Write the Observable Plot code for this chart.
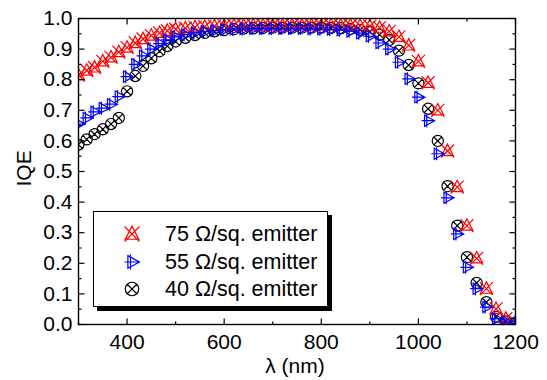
<!DOCTYPE html>
<html><head><meta charset="utf-8">
<script src="https://cdn.jsdelivr.net/npm/d3@7"></script>
<script src="https://cdn.jsdelivr.net/npm/@observablehq/plot@0.6"></script>
<style>
body{margin:0;background:#fff;}
#wrap{position:relative;width:547px;height:380px;font-family:"Liberation Sans",Arial,sans-serif;}
#legend{position:absolute;left:93px;top:211px;width:233px;height:94px;border:1.2px solid #000;box-shadow:4px 4px 0 #000;background:#fff;}
.row{position:absolute;left:0;height:28px;display:flex;align-items:center;font-size:21.5px;color:#000;white-space:nowrap;}
.row svg{margin-left:30px;margin-right:25px;overflow:visible;}
</style></head><body><div id="wrap"></div>
<script>
// wavelength (nm)
const lambda = [300,317,333,350,367,383,400,417,433,450,467,483,500,
  520,540,560,580,600,620,640,660,680,700,720,740,760,780,800,820,840,860,880,900,
  920,940,960,980,1000,1020,1040,1060,1080,1100,1120,1140,1160,1180,1200];
// IQE, 75 ohm/sq emitter
const iqe75 = [0.815,0.83,0.84,0.86,0.873,0.89,0.905,0.92,0.933,0.944,0.953,0.96,0.965,
  0.968,0.971,0.973,0.975,0.976,0.977,0.977,0.978,0.978,0.978,0.978,0.978,0.978,0.978,0.978,0.978,0.977,0.977,0.976,0.975,
  0.97,0.958,0.94,0.912,0.86,0.79,0.70,0.567,0.449,0.323,0.216,0.117,0.051,0.019,0.008];
// IQE, 55 ohm/sq emitter
const iqe55 = [0.655,0.675,0.695,0.707,0.72,0.745,0.81,0.85,0.878,0.9,0.918,0.93,0.94,
  0.947,0.953,0.957,0.96,0.963,0.965,0.966,0.967,0.967,0.967,0.967,0.967,0.967,0.966,0.965,0.964,0.962,0.958,0.952,0.942,
  0.92,0.9,0.857,0.803,0.743,0.666,0.558,0.414,0.296,0.187,0.117,0.057,0.019,0.008,0.004];
// IQE, 40 ohm/sq emitter
const iqe40 = [0.588,0.605,0.622,0.638,0.655,0.675,0.762,0.812,0.845,0.87,0.893,0.91,0.925,
  0.937,0.946,0.953,0.958,0.962,0.965,0.967,0.968,0.969,0.97,0.97,0.97,0.97,0.97,0.97,0.969,0.968,0.966,0.963,0.957,
  0.947,0.93,0.895,0.848,0.788,0.705,0.60,0.452,0.323,0.22,0.136,0.073,0.025,0.01,0.005];

const seriesNames = ["75 \u03A9/sq. emitter", "55 \u03A9/sq. emitter", "40 \u03A9/sq. emitter"];
const seriesColors = ["#ff0000", "#0000ff", "#000000"];
const xTickLabels = [400, 600, 800, 1000, 1200];
const xMinorTicks = [300, 500, 700, 900, 1100];
const yTickLabels = [0, 0.1, 0.2, 0.3, 0.4, 0.5, 0.6, 0.7, 0.8, 0.9, 1.0];
const yMinorTicks = [0.05, 0.15, 0.25, 0.35, 0.45, 0.55, 0.65, 0.75, 0.85, 0.95];
const xLabel = "\u03BB (nm)";
const yLabel = "IQE";

// custom marker shapes
const rad = size => Math.sqrt(size / Math.PI);
const symXTri = {draw(c, size) { const r = rad(size);
  c.moveTo(-r, -r); c.lineTo(r, r); c.moveTo(r, -r); c.lineTo(-r, r);
  c.moveTo(0, -r * 1.05); c.lineTo(r * 0.9, r * 0.7); c.lineTo(-r * 0.9, r * 0.7); c.closePath(); }};
const symPlusTri = {draw(c, size) { const r = rad(size);
  c.moveTo(-r, 0); c.lineTo(r, 0); c.moveTo(-r * 0.2, -r); c.lineTo(-r * 0.2, r);
  c.moveTo(-r * 0.55, -r * 0.85); c.lineTo(r, 0); c.lineTo(-r * 0.55, r * 0.85); c.closePath(); }};
const symCircX = {draw(c, size) { const r = rad(size) * 0.9, k = r * 0.707;
  c.moveTo(r, 0); c.arc(0, 0, r, 0, 2 * Math.PI);
  c.moveTo(-k, -k); c.lineTo(k, k); c.moveTo(k, -k); c.lineTo(-k, k); }};
const seriesSymbols = [symXTri, symPlusTri, symCircX];
const seriesR = [6.5, 6.5, 6.2];
const tickSym = (dx, dy) => ({draw(c, size) { const L = rad(size); c.moveTo(0, 0); c.lineTo(dx * L, dy * L); }});

const seriesData = [iqe75, iqe55, iqe40];
const dotMark = k => Plot.dot(lambda, {x: d => d, y: (d, i) => seriesData[k][i], r: seriesR[k],
  symbol: seriesSymbols[k], stroke: seriesColors[k], fill: "none", strokeWidth: 1.2, clip: true});

const tickMarks = (vals, len) => [
  Plot.dot(vals.x, {x: d => d, y: () => 0, r: len, symbol: tickSym(0, -1), stroke: "black", fill: "none", strokeWidth: 1.2}),
  Plot.dot(vals.x, {x: d => d, y: () => 1, r: len, symbol: tickSym(0, 1), stroke: "black", fill: "none", strokeWidth: 1.2}),
  Plot.dot(vals.y, {y: d => d, x: () => 300, r: len, symbol: tickSym(1, 0), stroke: "black", fill: "none", strokeWidth: 1.2}),
  Plot.dot(vals.y, {y: d => d, x: () => 1200, r: len, symbol: tickSym(-1, 0), stroke: "black", fill: "none", strokeWidth: 1.2})
];

const chart = Plot.plot({
  width: 547, height: 380,
  marginLeft: 78, marginRight: 32, marginTop: 18, marginBottom: 56,
  x: {domain: [300, 1200]},
  y: {domain: [0, 1]},
  style: {fontFamily: "'Liberation Sans', Arial, sans-serif", fontSize: "21px", background: "#fff", overflow: "visible", color: "#000"},
  marks: [
    dotMark(2), dotMark(0), dotMark(1),
    ...tickMarks({x: xTickLabels, y: yTickLabels}, 6),
    ...tickMarks({x: xMinorTicks, y: yMinorTicks}, 3),
    Plot.frame({stroke: "black", strokeWidth: 1.4}),
    Plot.axisX({ticks: xTickLabels, tickSize: 0, tickPadding: 10, tickFormat: d => String(d), label: null}),
    Plot.axisY({ticks: yTickLabels, tickSize: 0, tickPadding: 6, tickFormat: d3.format(".1f"), label: null}),
    Plot.text([xLabel], {text: d => d, frameAnchor: "bottom", dy: 48, dx: -2, fontSize: 21}),
    Plot.text([yLabel], {text: d => d, frameAnchor: "left", rotate: -90, dx: -54, dy: 15, fontSize: 21})
  ]
});
const wrap = document.getElementById("wrap");
wrap.appendChild(chart);

// legend
const leg = document.createElement("div");
leg.id = "legend";
const rowTops = [8, 36, 63];
seriesNames.forEach((name, k) => {
  const row = document.createElement("div");
  row.className = "row";
  row.style.top = rowTops[k] + "px";
  const svg = d3.create("svg").attr("width", 16).attr("height", 16).attr("viewBox", "-8 -8 16 16");
  svg.append("path").attr("d", d3.symbol(seriesSymbols[k], Math.PI * 56)())
    .attr("fill", "none").attr("stroke", seriesColors[k]).attr("stroke-width", 1.2);
  row.appendChild(svg.node());
  const span = document.createElement("span");
  span.textContent = name;
  row.appendChild(span);
  leg.appendChild(row);
});
wrap.appendChild(leg);
</script>
</body></html>
